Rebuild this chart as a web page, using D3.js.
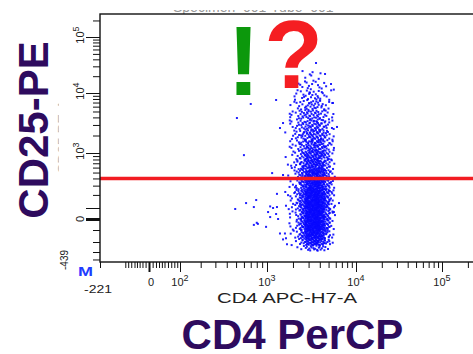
<!DOCTYPE html>
<html>
<head>
<meta charset="utf-8">
<script src="https://cdn.jsdelivr.net/npm/d3@7"></script>
<style>
  html, body { margin: 0; padding: 0; background: #fff; }
  svg { display: block; }
</style>
</head>
<body>
<svg id="chart" width="473" height="354"></svg>
<script>
// ---- data -------------------------------------------------------------
// CD4 (x) and CD25 (y) bin edges of the event density grid
const cd4Edges = [1600, 1850, 2100, 2400, 2750, 3100, 3550, 4000, 4550, 5200, 5900];
const cd25Edges = [-290, -230, -170, -100, -10, 80, 160, 250, 380, 550, 790, 1130,
                   1680, 2470, 3600, 5300, 7700, 11300, 17100, 25800, 38900];
// events per cell, one row per CD25 band (lowest band first), one column per CD4 bin
const eventCounts = [
  [0, 0, 1, 2, 4, 6, 6, 4, 2, 0],
  [0, 1, 2, 6, 12, 16, 16, 12, 6, 1],
  [1, 2, 4, 12, 24, 30, 28, 20, 10, 2],
  [1, 2, 6, 16, 32, 40, 40, 30, 14, 3],
  [1, 2, 6, 18, 34, 42, 42, 30, 16, 4],
  [2, 3, 8, 18, 32, 40, 40, 30, 16, 5],
  [2, 3, 8, 16, 30, 36, 36, 28, 15, 5],
  [1, 2, 7, 14, 26, 32, 32, 26, 14, 4],
  [1, 2, 6, 12, 22, 26, 26, 22, 12, 3],
  [1, 3, 6, 12, 18, 22, 22, 18, 10, 3],
  [1, 2, 5, 10, 16, 18, 19, 16, 9, 3],
  [1, 3, 5, 9, 13, 15, 15, 13, 8, 3],
  [1, 3, 5, 9, 11, 13, 13, 11, 7, 2],
  [1, 3, 5, 7, 10, 11, 11, 9, 5, 2],
  [1, 3, 5, 7, 9, 9, 9, 7, 4, 2],
  [0, 2, 3, 5, 7, 7, 7, 5, 3, 1],
  [0, 1, 3, 4, 5, 5, 5, 4, 2, 1],
  [0, 0, 1, 3, 3, 3, 3, 2, 1, 1],
  [0, 0, 0, 1, 2, 2, 1, 1, 0, 0],
  [0, 0, 0, 0, 0, 0, 0, 0, 0, 0]
];
// isolated events outside the main population: [CD4, CD25]
const scatteredEvents = [
  [3630, 34400], [4570, 21900], [5320, 14500], [700, 6630], [510, 3910],
  [600, 930], [1150, 490], [1280, 7700], [1540, 3230], [1420, 2670],
  [5450, 2670], [6190, 2780], [5590, 6890], [1310, 210], [790, 156],
  [630, 133], [750, 106], [490, 88], [1030, 55], [1180, 100],
  [1310, 106], [1090, 13], [1280, 37], [1350, 0], [800, -27],
  [750, -45], [980, -64], [1420, -125], [1540, -175], [1710, -220],
  [6510, 133], [5730, 55], [1090, 110], [1620, -125], [820, -36],
  [1540, 456]
];
const cd25Gate = 400;

// axis ticks
const xMajorTicks = [0, 100, 1000, 10000, 100000];
const xMinorTicks = [-221, -80, -70, -60, -50, -40, -30, -20, -10,
  10, 20, 30, 40, 50, 60, 70, 80, 90,
  200, 300, 400, 500, 600, 700, 800, 900,
  2000, 3000, 4000, 5000, 6000, 7000, 8000, 9000,
  20000, 30000, 40000, 50000, 60000, 70000, 80000, 90000, 200000];
const xTickLabels = [-221, 0, 100, 1000, 10000, 100000];
const yMajorTicks = [0, 100, 1000, 10000, 100000];
const yMinorTicks = [-400, -300, -200, -100,
  200, 300, 400, 500, 600, 700, 800, 900,
  2000, 3000, 4000, 5000, 6000, 7000, 8000, 9000,
  20000, 30000, 40000, 50000, 60000, 70000, 80000, 90000, 200000];
const yTickLabels = [-439, 0, 1000, 10000, 100000];

const plotTitle = "Specimen_001-Tube_001";
const xAxisName = "CD4 APC-H7-A";
const yAxisName = "CD25 PE-A";
const xMarker = "CD4 PerCP";
const yMarker = "CD25-PE";

// ---- layout -----------------------------------------------------------
const FONT = "'Liberation Sans', Arial, Helvetica, sans-serif";
const svg = d3.select("#chart");
const plotLeft = 100, plotTop = 14, plotBottom = 262, plotRight = 478;

// biexponential-style display: symlog with a piecewise domain
const x = d3.scaleSymlog().constant(100)
  .domain([-221, -100, -50, 0, 50, 100, 1000, 10000, 100000, 262144])
  .range([plotLeft, 120, 134.5, 149, 164.5, 180, 267, 356, 442, plotRight]);
const y = d3.scaleSymlog().constant(100)
  .domain([-439, -300, -200, -100, 0, 100, 1000, 10000, 100000, 262144])
  .range([plotBottom, 252, 242, 230, 219, 208, 153, 93, 37, plotTop]);

// ---- title (mostly above the visible area) ------------------------------
svg.append("clipPath").attr("id", "titleClip")
  .append("rect").attr("x", 0).attr("y", 10).attr("width", 473).attr("height", 4);
svg.append("g").attr("clip-path", "url(#titleClip)")
  .append("text")
  .attr("x", 173).attr("y", 12)
  .attr("font-family", FONT).attr("font-size", 14)
  .attr("fill", "#999")
  .text(plotTitle);

// ---- events -----------------------------------------------------------
function halton(i, b) {
  let f = 1, r = 0;
  while (i > 0) { f /= b; r += f * (i % b); i = Math.floor(i / b); }
  return r;
}
const events = [];
let seq = 1;
eventCounts.forEach((row, r) => {
  row.forEach((n, c) => {
    const x0 = x(cd4Edges[c]), x1 = x(cd4Edges[c + 1]);
    const y0 = y(cd25Edges[r]), y1 = y(cd25Edges[r + 1]);
    for (let k = 0; k < n; k++, seq++) {
      events.push([
        x.invert(x0 + halton(seq, 2) * (x1 - x0)),
        y.invert(y1 + halton(seq, 3) * (y0 - y1))
      ]);
    }
  });
});
scatteredEvents.forEach(e => events.push(e));

svg.append("g").selectAll("rect").data(events).join("rect")
  .attr("x", d => x(d[0]) - 1)
  .attr("y", d => y(d[1]) - 1)
  .attr("width", 2).attr("height", 2)
  .attr("fill", "#0808ff")
  .attr("fill-opacity", 0.9);

// ---- gate line --------------------------------------------------------
svg.append("line")
  .attr("x1", plotLeft).attr("x2", plotRight)
  .attr("y1", y(cd25Gate)).attr("y2", y(cd25Gate))
  .attr("stroke", "#f21c22").attr("stroke-width", 3.6);

// ---- frame ------------------------------------------------------------
svg.append("rect")
  .attr("x", plotLeft).attr("y", plotTop)
  .attr("width", plotRight - plotLeft).attr("height", plotBottom - plotTop)
  .attr("fill", "none").attr("stroke", "#111").attr("stroke-width", 1.4);

// ---- axes -------------------------------------------------------------
function axisGroup(axis, transform) {
  const g = svg.append("g").attr("transform", transform).call(axis);
  g.select(".domain").remove();
  g.selectAll(".tick line").attr("stroke", "#111");
  return g;
}
axisGroup(d3.axisBottom(x).tickValues(xMinorTicks).tickSize(6).tickSizeOuter(0).tickFormat(""),
  `translate(0,${plotBottom})`);
const gxMaj = axisGroup(d3.axisBottom(x).tickValues(xMajorTicks).tickSize(10).tickSizeOuter(0).tickFormat(""),
  `translate(0,${plotBottom})`);
gxMaj.selectAll(".tick").filter(d => d === 0).select("line").attr("stroke-width", 2);

axisGroup(d3.axisLeft(y).tickValues(yMinorTicks).tickSize(7).tickSizeOuter(0).tickFormat(""),
  `translate(${plotLeft},0)`);
const gyMaj = axisGroup(d3.axisLeft(y).tickValues(yMajorTicks).tickSize(14).tickSizeOuter(0).tickFormat(""),
  `translate(${plotLeft},0)`);
gyMaj.selectAll(".tick").filter(d => d === 0).select("line").attr("stroke-width", 3);

function writeLabel(sel, v) {
  if (v >= 100) {
    sel.append("tspan").text("10");
    sel.append("tspan").attr("dy", -5).attr("font-size", 9).text(String(Math.round(Math.log10(v))));
  } else {
    sel.text(String(v));
  }
}

// x tick labels
xTickLabels.forEach(v => {
  const t = svg.append("text")
    .attr("font-family", FONT).attr("font-size", 11).attr("fill", "#222")
    .attr("text-anchor", "middle")
    .attr("x", x(v) + (v < 0 ? -2 : v === 0 ? 2 : 0))
    .attr("y", v < 0 ? 293 : 286);
  if (v < 0) t.attr("textLength", 28).attr("lengthAdjust", "spacingAndGlyphs");
  writeLabel(t, v);
});

// y tick labels (rotated)
yTickLabels.forEach(v => {
  const neg = v < 0;
  const cy = neg ? 260 : y(v) - (v === 0 ? 0 : 2);
  const bx = neg ? 68 : 83.5;
  const t = svg.append("text")
    .attr("transform", `translate(${bx},${cy}) rotate(-90)`)
    .attr("font-family", FONT).attr("font-size", neg ? 10 : 11).attr("fill", "#222")
    .attr("text-anchor", "middle");
  writeLabel(t, v);
});

// small axis names of the cytometer plot
svg.append("text")
  .attr("x", 217).attr("y", 303)
  .attr("font-family", FONT).attr("font-size", 14).attr("fill", "#222")
  .attr("textLength", 140).attr("lengthAdjust", "spacingAndGlyphs")
  .text(xAxisName);
svg.append("clipPath").attr("id", "yNameClip")
  .append("rect").attr("x", 57).attr("y", 0).attr("width", 2).attr("height", 354);
svg.append("g").attr("clip-path", "url(#yNameClip)")
  .append("text")
  .attr("transform", "translate(68,137) rotate(-90)")
  .attr("text-anchor", "middle")
  .attr("font-family", FONT).attr("font-size", 14).attr("fill", "#bbb")
  .attr("textLength", 74).attr("lengthAdjust", "spacingAndGlyphs")
  .text(yAxisName);

// parameter marker
svg.append("text")
  .attr("x", 78).attr("y", 276)
  .attr("font-family", FONT).attr("font-size", 12).attr("font-weight", "bold")
  .attr("fill", "#1f3cff")
  .attr("textLength", 15).attr("lengthAdjust", "spacingAndGlyphs")
  .text("M");

// ---- annotations ------------------------------------------------------
svg.append("text")
  .attr("x", 243.5).attr("y", 95)
  .attr("text-anchor", "middle")
  .attr("font-family", FONT).attr("font-weight", "bold").attr("font-size", 98)
  .attr("fill", "#0c980c")
  .text("!");
svg.append("text")
  .attr("x", 293.5).attr("y", 88)
  .attr("text-anchor", "middle")
  .attr("font-family", FONT).attr("font-weight", "bold").attr("font-size", 96)
  .attr("fill", "#f51e22")
  .text("?");

// large marker names
svg.append("text")
  .attr("x", 292.5).attr("y", 349)
  .attr("text-anchor", "middle")
  .attr("font-family", FONT).attr("font-weight", "bold").attr("font-size", 42)
  .attr("fill", "#2e0b5e")
  .text(xMarker);
svg.append("text")
  .attr("transform", "translate(48,130) rotate(-90)")
  .attr("text-anchor", "middle")
  .attr("font-family", FONT).attr("font-weight", "bold").attr("font-size", 42)
  .attr("fill", "#2e0b5e")
  .text(yMarker);
</script>
</body>
</html>
